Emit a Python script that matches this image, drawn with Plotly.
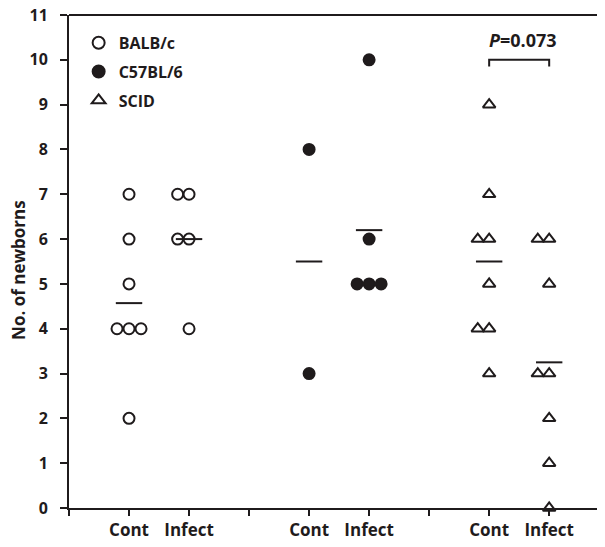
import plotly.graph_objects as go
from collections import Counter

# ---- data ----
strains = ["BALB/c", "C57BL/6", "SCID"]
conditions = ["Cont", "Infect"]
balb_cont = [7, 6, 5, 4, 4, 4, 2]
balb_infect = [7, 7, 6, 6, 4]
c57_cont = [8, 3]
c57_infect = [10, 6, 5, 5, 5]
scid_cont = [9, 7, 6, 6, 5, 4, 4, 3]
scid_infect = [6, 6, 5, 3, 3, 2, 1, 0]
p_text = "<i>P</i>=0.073"
y_ticks = list(range(0, 12))
y_title = "No. of newborns"

groups = [
    (strains[0], [balb_cont, balb_infect], "circle-open"),
    (strains[1], [c57_cont, c57_infect], "circle"),
    (strains[2], [scid_cont, scid_infect], "triangle-up-open"),
]

INK = "#1f1b1c"
FONT = "Open Sans"

def jitter(vals):
    offs = {1: [0.0], 2: [-0.19, 0.0], 3: [-0.2, 0.0, 0.2]}
    cnt = Counter(vals)
    used = Counter()
    out = []
    for v in vals:
        o = offs.get(cnt[v], [0.0] * cnt[v])[used[v]]
        used[v] += 1
        out.append(o)
    return out

fig = go.Figure()
pos = 1
tickvals, ticktext = [0], [""]
for gi, (name, series, sym) in enumerate(groups):
    xs, ys = [], []
    for ci, vals in enumerate(series):
        xc = pos + ci
        tickvals.append(xc)
        ticktext.append(conditions[ci])
        for v, o in zip(vals, jitter(vals)):
            xs.append(xc + o)
            ys.append(v)
        m = sum(vals) / len(vals)
        fig.add_trace(go.Scatter(x=[xc - 0.22, xc + 0.22], y=[m, m], mode="lines",
                                 line=dict(color=INK, width=2), showlegend=False,
                                 hoverinfo="skip"))
    fig.add_trace(go.Scatter(
        x=xs, y=ys, mode="markers", name=name, legendgroup=name, cliponaxis=False,
        marker=dict(symbol=sym, size=11, color=INK,
                    line=dict(color=INK, width=2)),
    ))
    tickvals.append(pos + 2)
    ticktext.append("")
    pos += 3

# top frame line
fig.add_shape(type="line", xref="paper", yref="paper", x0=0, x1=1, y0=1, y1=1,
              line=dict(color=INK, width=2))

# significance bracket for SCID
x1, x2 = 7, 8
top = 10.0
fig.add_shape(type="path", path=f"M {x1},{top-0.15} L {x1},{top} L {x2},{top} L {x2},{top-0.15}",
              line=dict(color=INK, width=2))
fig.add_annotation(x=(x1 + x2) / 2, y=top + 0.45, text=f"<b>{p_text}</b>", showarrow=False,
                   font=dict(family=FONT, size=18, color=INK), xshift=4)

# y axis title
fig.add_annotation(xref="paper", yref="paper", x=0, y=0.483, xshift=-50, xanchor="center",
                   yanchor="middle", text=f"<b>{y_title}</b>", textangle=-90, showarrow=False,
                   font=dict(family=FONT, size=17, color=INK))

fig.update_layout(
    width=597, height=539,
    margin=dict(l=61, r=0, t=7, b=39, autoexpand=False),
    paper_bgcolor="white", plot_bgcolor="white",
    font=dict(family=FONT, color=INK),
    showlegend=True,
    legend=dict(x=0.018, y=0.978, xanchor="left", yanchor="top",
                font=dict(family=FONT, size=16, color=INK, weight="bold"),
                bgcolor="rgba(0,0,0,0)", tracegroupgap=5, itemsizing="constant"),
    xaxis=dict(range=[0, 8.93], tickvals=tickvals, ticktext=ticktext,
               showline=True, linecolor=INK, linewidth=2,
               ticks="outside", ticklen=6, tickwidth=2, tickcolor=INK,
               showgrid=False, zeroline=False, automargin=False,
               tickfont=dict(family=FONT, size=17, color=INK, weight="bold")),
    yaxis=dict(range=[0, 11], tickvals=y_ticks,
               showline=True, linecolor=INK, linewidth=2,
               ticks="outside", ticklen=7, tickwidth=2, tickcolor=INK,
               showgrid=False, zeroline=False, ticklabelstandoff=9, automargin=False,
               ticklabeloverflow="allow",
               tickfont=dict(family=FONT, size=16, color=INK, weight="bold")),
)

fig.write_html("out.html")
